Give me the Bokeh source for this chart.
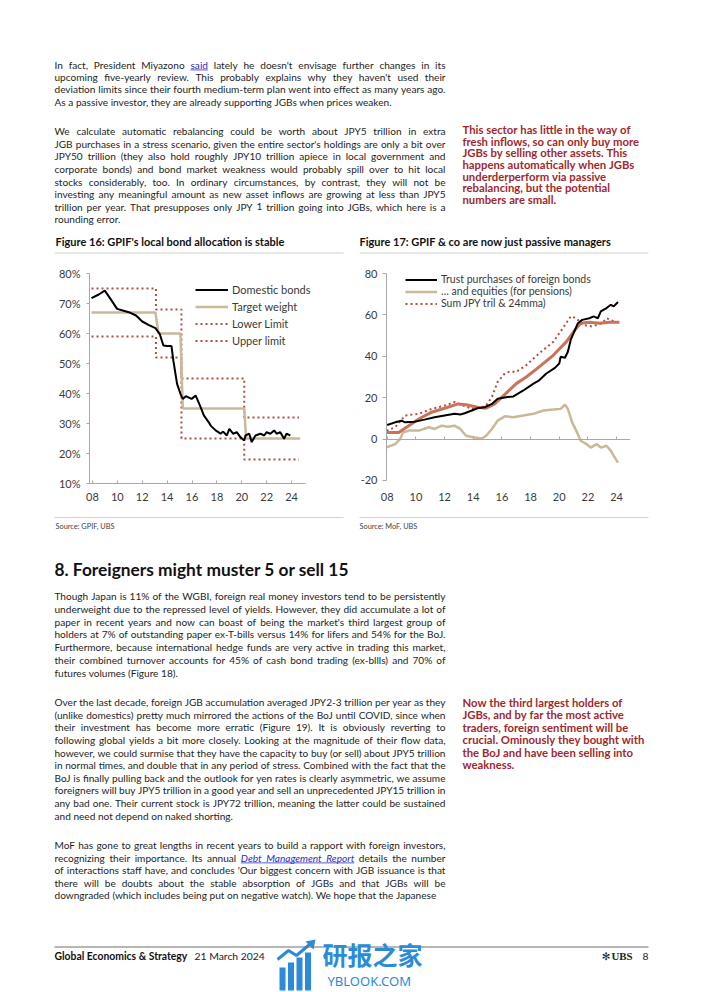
import glob, os
from bokeh.plotting import figure
from bokeh.models import (ColumnDataSource, Range1d, FixedTicker, Span, Legend, LegendItem,
                          LinearAxis)
from bokeh.layouts import column, row
from bokeh.embed import file_html
from bokeh.resources import INLINE
from bokeh.core.properties import value

# ---------------- Figure 16 data (GPIF domestic bond allocation, %) ----------------
dom_years = [2007.92, 2008.5, 2008.99, 2009.5, 2009.98, 2010.5, 2010.92, 2011.5, 2012.0, 2012.5,
             2013.06, 2013.4, 2013.7, 2014.0, 2014.35, 2014.5, 2014.8, 2015.07, 2015.26, 2015.5,
             2015.96, 2016.3, 2016.7, 2016.95, 2017.35, 2017.5, 2017.9, 2018.3, 2018.5, 2018.8,
             2019.0, 2019.3, 2019.6, 2019.9, 2020.2, 2020.3, 2020.6, 2020.8, 2021.1, 2021.5,
             2021.8, 2022.0, 2022.3, 2022.6, 2022.8, 2023.1, 2023.4, 2023.6, 2023.9]
dom_bonds = [71.8, 73.0, 74.3, 71.2, 68.2, 67.6, 67.1, 66.0, 64.0, 62.9,
             61.8, 59.9, 56.0, 55.8, 55.8, 51.0, 43.2, 39.9, 38.2, 39.1,
             38.2, 39.3, 35.4, 32.7, 30.4, 29.3, 27.7, 26.6, 27.3, 26.0,
             28.2, 26.6, 27.1, 25.4, 24.3, 26.0, 26.6, 23.8, 26.0, 26.6,
             26.0, 27.1, 26.6, 27.7, 26.6, 27.1, 24.9, 26.6, 26.0]
target_years = [2007.92, 2013.06, 2013.3, 2015.07, 2015.26, 2020.2, 2020.35, 2024.7]
target_weight = [67, 67, 60, 60, 35, 35, 25, 25]
limit_years = [2007.92, 2013.1, 2013.1, 2015.15, 2015.15, 2020.2, 2020.2, 2024.6]
lower_limit = [59, 59, 52, 52, 25, 25, 18, 18]
upper_limit = [75, 75, 68, 68, 45, 45, 32, 32]
f16_xticks = [2008, 2010, 2012, 2014, 2016, 2018, 2020, 2022, 2024]
f16_xlabels = ["08", "10", "12", "14", "16", "18", "20", "22", "24"]
f16_yticks = [10, 20, 30, 40, 50, 60, 70, 80]
f16_ylabels = ["10%", "20%", "30%", "40%", "50%", "60%", "70%", "80%"]

# ---------------- Figure 17 data (JPY tril) ----------------
trust_years = [2008.0, 2008.55, 2009.0, 2009.25, 2009.9, 2010.6, 2011.3, 2012.0, 2012.7, 2013.1,
               2013.4, 2013.9, 2014.3, 2014.8, 2015.3, 2015.7, 2016.4, 2016.8, 2017.5, 2018.2,
               2018.6, 2019.1, 2019.7, 2020.0, 2020.1, 2020.4, 2020.6, 2020.8, 2021.1, 2021.3,
               2021.6, 2022.1, 2022.4, 2022.7, 2022.9, 2023.3, 2023.6, 2023.8, 2024.1]
trust_bonds = [6.8, 8.1, 8.9, 8.1, 8.4, 9.4, 10.6, 11.4, 12.2, 11.9,
               12.5, 13.8, 14.9, 15.4, 17.0, 19.5, 20.3, 20.6, 23.5, 26.8,
               28.4, 31.7, 34.4, 36.5, 39.8, 39.3, 42.2, 47.9, 52.8, 56.0,
               57.6, 58.4, 59.3, 58.4, 61.7, 63.3, 64.9, 64.1, 66.2]
eq_years = [2007.95, 2008.55, 2008.9, 2009.1, 2009.5, 2010.2, 2010.9, 2011.3, 2011.8, 2012.25,
            2012.7, 2013.1, 2013.5, 2014.1, 2014.6, 2014.9, 2015.3, 2015.7, 2016.2, 2016.8,
            2017.5, 2018.2, 2018.9, 2019.6, 2020.1, 2020.4, 2020.6, 2020.9, 2021.3, 2021.5,
            2021.9, 2022.2, 2022.6, 2022.9, 2023.3, 2023.6, 2023.8, 2024.1]
equities = [-4.0, -2.4, 0.0, 3.2, 4.1, 4.1, 5.7, 4.9, 6.5, 6.0,
            6.5, 4.9, 1.6, 0.8, 0.3, 1.6, 4.9, 8.9, 11.0, 10.6,
            11.4, 12.2, 13.8, 14.3, 14.6, 16.6, 14.6, 8.1, 2.4, -0.8,
            -2.4, -4.1, -2.4, -4.1, -3.2, -5.7, -8.1, -11.4]
ma_years = [2007.95, 2008.8, 2009.5, 2010.2, 2011.1, 2012.0, 2012.95, 2013.5, 2014.3, 2014.9,
            2015.5, 2016.0, 2016.5, 2017.0, 2017.7, 2018.6, 2019.6, 2020.5, 2021.1, 2021.5,
            2022.1, 2022.8, 2023.5, 2024.2]
sum_24mma = [3.2, 3.2, 6.5, 9.7, 13.0, 14.9, 17.0, 16.6, 15.4, 14.9,
             17.0, 20.3, 23.5, 26.8, 30.0, 34.9, 40.6, 47.1, 52.8, 56.0,
             56.5, 56.0, 56.5, 56.5]
sum_years = [2007.95, 2008.55, 2009.25, 2010.2, 2011.1, 2012.0, 2012.7, 2013.3, 2013.9, 2014.6,
             2014.9, 2015.3, 2015.7, 2016.2, 2016.5, 2017.0, 2017.7, 2018.6, 2019.6, 2020.25,
             2020.8, 2021.2, 2021.6, 2022.3, 2023.0, 2023.3, 2023.95]
sum_total = [4.1, 5.7, 11.4, 12.2, 14.6, 16.2, 17.9, 16.2, 14.6, 15.4,
             16.2, 20.3, 27.6, 31.7, 32.5, 32.5, 35.7, 41.4, 47.1, 53.6,
             59.3, 58.4, 55.2, 54.4, 56.0, 58.4, 56.5]
f17_xticks = f16_xticks
f17_xlabels = f16_xlabels
f17_yticks = [-20, 0, 20, 40, 60, 80]
f17_ylabels = ["-20", "0", "20", "40", "60", "80"]

# ---------------- text content ----------------
P1 = ["In fact, President Miyazono @said lately he doesn't envisage further changes in its",
      "upcoming five-yearly review. This probably explains why they haven't used their",
      "deviation limits since their fourth medium-term plan went into effect as many years ago.",
      "As a passive investor, they are already supporting JGBs when prices weaken."]
P2 = ["We calculate automatic rebalancing could be worth about JPY5 trillion in extra",
      "JGB purchases in a stress scenario, given the entire sector's holdings are only a bit over",
      "JPY50 trillion (they also hold roughly JPY10 trillion apiece in local government and",
      "corporate bonds) and bond market weakness would probably spill over to hit local",
      "stocks considerably, too. In ordinary circumstances, by contrast, they will not be",
      "investing any meaningful amount as new asset inflows are growing at less than JPY5",
      "trillion per year. That presupposes only JPY 1 trillion going into JGBs, which here is a",
      "rounding error."]
SIDE1 = ["This sector has little in the way of",
         "fresh inflows, so can only buy more",
         "JGBs by selling other assets. This",
         "happens automatically when JGBs",
         "underderperform via passive",
         "rebalancing, but the potential",
         "numbers are small."]
TITLE16 = "Figure 16: GPIF's local bond allocation is stable"
TITLE17 = "Figure 17: GPIF & co are now just passive managers"
SRC16 = "Source: GPIF, UBS"
SRC17 = "Source: MoF, UBS"
HEADING = "8. Foreigners might muster 5 or sell 15"
P3 = ["Though Japan is 11% of the WGBI, foreign real money investors tend to be persistently",
      "underweight due to the repressed level of yields. However, they did accumulate a lot of",
      "paper in recent years and now can boast of being the market's third largest group of",
      "holders at 7% of outstanding paper ex-T-bills versus 14% for lifers and 54% for the BoJ.",
      "Furthermore, because international hedge funds are very active in trading this market,",
      "their combined turnover accounts for 45% of cash bond trading (ex-bllls) and 70% of",
      "futures volumes (Figure 18)."]
P4 = ["Over the last decade, foreign JGB accumulation averaged JPY2-3 trillion per year as they",
      "(unlike domestics) pretty much mirrored the actions of the BoJ until COVID, since when",
      "their investment has become more erratic (Figure 19). It is obviously reverting to",
      "following global yields a bit more closely. Looking at the magnitude of their flow data,",
      "however, we could surmise that they have the capacity to buy (or sell) about JPY5 trillion",
      "in normal times, and double that in any period of stress. Combined with the fact that the",
      "BoJ is finally pulling back and the outlook for yen rates is clearly asymmetric, we assume",
      "foreigners will buy JPY5 trillion in a good year and sell an unprecedented JPY15 trillion in",
      "any bad one. Their current stock is JPY72 trillion, meaning the latter could be sustained",
      "and need not depend on naked shorting."]
P5 = ["MoF has gone to great lengths in recent years to build a rapport with foreign investors,",
      "recognizing their importance. Its annual ~Debt ~Management ~Report details the number",
      "of interactions staff have, and concludes 'Our biggest concern with JGB issuance is that",
      "there will be doubts about the stable absorption of JGBs and that JGBs will be",
      "downgraded (which includes being put on negative watch). We hope that the Japanese"]
SIDE2 = ["Now the third largest holders of",
         "JGBs, and by far the most active",
         "traders, foreign sentiment will be",
         "crucial. Ominously they bought with",
         "the BoJ and have been selling into",
         "weakness."]
FOOT_L = "Global Economics & Strategy"
FOOT_D = "21 March 2024"
FOOT_PAGE = "8"

# ---------------- styling ----------------
FONT = "Lato"
INK = "#1e1e1e"
RED_NOTE = "#a0282d"
LINK = "#2c2cc4"
RULE = "#d2d2d2"
AXIS = "#a8a8a8"
LBL = "#3a3a3a"
BLACK = "#000000"
TAN = "#c9b997"
DOT = "#b44c40"
ORANGE = "#c9735b"
WM = "#2b8bd9"


def _find(name):
    for d in ("/usr/share/fonts", "/usr/local/share/fonts",
              os.path.expanduser("~/.fonts"), os.path.expanduser("~/.local/share/fonts")):
        try:
            hits = glob.glob(os.path.join(d, "**", name), recursive=True)
        except Exception:
            hits = []
        if hits:
            return sorted(hits)[0]
    return None


FONT_FILES = {"normal": _find("Lato-Regular.ttf"), "bold": _find("Lato-Bold.ttf"),
              "italic": _find("Lato-Italic.ttf")}
_pil = {}


def em(text, style="normal"):
    path = FONT_FILES.get(style)
    if path:
        try:
            if style not in _pil:
                from PIL import ImageFont
                _pil[style] = ImageFont.truetype(path, 200)
            return _pil[style].getlength(text) / 200.0
        except Exception:
            pass
    return len(text) * (0.52 if style == "bold" else 0.47)


def clean(s):
    return s.replace("@", "").replace("~", "")


def fit(text, width, style="normal", lo=6.0, hi=30.0):
    return max(lo, min(hi, width / em(clean(text), style)))


BODY = max(9.0, min(11.0, min(391.0 / em(clean(l)) for l in P1[:-1] + P2[:-1] + P3[:-1] + P4[:-1] + P5)))
SIDE = max(9.0, min(11.5, 181.0 / max(em(l, "bold") for l in SIDE1 + SIDE2)))
HEAD = fit(HEADING, 294, "bold", 14, 22)
TSIZE = max(8.5, min(11, 0.5 * (fit(TITLE16, 228, "bold") + fit(TITLE17, 253, "bold"))))
SSIZE = max(6.0, min(8.5, fit(SRC16, 59)))
FSIZE = max(8.5, min(11, fit(FOOT_L, 133, "bold")))

# ---------------- text layers (coordinates = page pixels, y = visual line centre) ----------------
texts = {}
segs = {}


def put(fk, x, c, txt, size, style="normal", color=INK, align="left", font=FONT):
    key = (fk, font, round(size, 2), style, align)
    d = texts.setdefault(key, {"x": [], "y": [], "text": [], "clr": []})
    d["x"].append(x); d["y"].append(c - 0.09 * size); d["text"].append(txt); d["clr"].append(color)


def seg(fk, x0, y0, x1, y1, color, width):
    d = segs.setdefault(fk, {"x0": [], "y0": [], "x1": [], "y1": [], "c": [], "w": []})
    d["x0"].append(x0); d["y0"].append(y0); d["x1"].append(x1); d["y1"].append(y1)
    d["c"].append(color); d["w"].append(width)


def paragraph(fk, lines, x0, x1, y0, dy, size, color=INK, style="normal", justify=True):
    sp = em(" ", style) * size
    for i, line in enumerate(lines):
        c = y0 + i * dy
        toks = []
        for w in line.split(" "):
            kind = "n"
            if w.startswith("@"):
                kind, w = "link", w[1:]
            elif w.startswith("~"):
                kind, w = "ilink", w[1:]
            st = "italic" if kind == "ilink" else style
            toks.append((w, kind, st, em(w, st) * size))
        total = sum(t[3] for t in toks)
        if justify and i < len(lines) - 1 and len(toks) > 1:
            gap = max((x1 - x0 - total) / (len(toks) - 1), sp * 0.6)
        else:
            gap = sp
        x = x0
        prev_end = None
        uy = c + 0.3 * size + 1.4
        for w, kind, st, wd in toks:
            put(fk, x, c, w, size, st, LINK if kind != "n" else color)
            if kind != "n":
                seg(fk, x if prev_end is None else prev_end, uy, x + wd, uy, LINK, 0.8)
                prev_end = x + wd
            else:
                prev_end = None
            x += wd + gap


# top section (page y 0..256)
paragraph("top", P1, 54, 445, 65.0, 12.4, BODY)
paragraph("top", P2, 54, 445, 131.7, 12.6, BODY)
paragraph("top", SIDE1, 462, 680, 130.0, 11.67, SIDE, RED_NOTE, "bold", justify=False)
put("top", 55, 242, TITLE16, TSIZE, "bold", "#111111")
put("top", 359, 242, TITLE17, TSIZE, "bold", "#111111")
seg("top", 54, 252.5, 343, 252.5, RULE, 1)
seg("top", 359, 252.5, 648, 252.5, RULE, 1)

# bottom section (page y 512..992)
seg("bot", 54, 517, 343, 517, RULE, 1)
seg("bot", 359, 517, 648, 517, RULE, 1)
put("bot", 55, 527, SRC16, SSIZE, "normal", "#444444")
put("bot", 359, 527, SRC17, SSIZE, "normal", "#444444")
put("bot", 54, 571, HEADING, HEAD, "bold", "#111111")
paragraph("bot", P3, 54, 445, 596.5, 12.75, BODY)
paragraph("bot", P4, 54, 445, 702.7, 12.6, BODY)
paragraph("bot", P5, 54, 445, 845.3, 12.65, BODY)
paragraph("bot", SIDE2, 462, 680, 702.7, 12.5, SIDE, RED_NOTE, "bold", justify=False)
seg("bot", 54, 946.5, 648, 946.5, "#6e6e6e", 1.2)
put("bot", 54, 956.5, FOOT_L, FSIZE, "bold", "#111111")
put("bot", 194, 956.5, FOOT_D, FSIZE, "normal", "#222222")
put("bot", 648, 956.5, FOOT_PAGE, FSIZE, "normal", "#222222", align="right")
put("bot", 611, 956.5, "UBS", FSIZE + 0.5, "bold", "#222222", font="Liberation Serif")
put("bot", 610, 956.5, "\u273b", FSIZE, "normal", "#222222", align="right", font="DejaVu Sans")
put("bot", 322, 956, "研报之家", 25, "bold", WM, font="Noto Sans CJK SC")
put("bot", 327, 982, "YBLOOK.COM", 13, "normal", WM, font="Noto Sans")


def text_fig(height, y_top):
    p = figure(width=702, height=height, x_range=Range1d(0, 702),
               y_range=Range1d(y_top + height, y_top), x_axis_type=None, y_axis_type=None,
               output_backend="svg", toolbar_location=None, min_border=0, title=None)
    p.outline_line_color = None
    p.background_fill_color = "white"
    p.border_fill_color = "white"
    return p


def render_layer(p, fk):
    if fk in segs:
        p.segment(x0="x0", y0="y0", x1="x1", y1="y1", line_color="c", line_width="w",
                  source=ColumnDataSource(segs[fk]))
    for key, d in texts.items():
        if key[0] != fk:
            continue
        _, font, size, style, align = key
        p.text(x="x", y="y", text="text", text_color="clr", source=ColumnDataSource(d),
               text_font=value(font), text_font_size=value(f"{size}px"),
               text_font_style=value(style), text_align=value(align),
               text_baseline=value("middle"))


top = text_fig(256, 0)
render_layer(top, "top")

bot = text_fig(480, 512)
# watermark icon
bot.quad(left=[279, 287.5, 296, 304.5], right=[285, 293.5, 302, 310.5],
         top=[967, 962, 957, 952], bottom=[990, 990, 990, 990],
         fill_color=WM, line_color=None)
bot.line(x=[277, 288, 296, 309], y=[959, 950, 955, 944], line_color=WM, line_width=3)
bot.patch(x=[305, 315, 313], y=[941, 939, 949], fill_color=WM, line_color=None)
render_layer(bot, "bot")


def style_axes(p, size):
    for ax in p.axis:
        ax.axis_line_color = AXIS
        ax.major_tick_line_color = AXIS
        ax.minor_tick_line_color = None
        ax.major_label_text_font = FONT
        ax.major_label_text_font_size = f"{size}px"
        ax.major_label_text_color = LBL
    p.xgrid.visible = False
    p.ygrid.visible = False
    p.outline_line_color = None
    p.background_fill_color = "white"
    p.border_fill_color = "white"


# Both chart frames span page y 261..483 (same top/bottom borders, frames are aligned in a row)
# ---------------- Figure 16 (page x 0..351) ----------------
p16 = figure(width=351, height=256, x_range=Range1d(2007.76, 2028.5), y_range=Range1d(10, 84),
             output_backend="svg", toolbar_location=None, title=None,
             min_border_left=89, min_border_right=4, min_border_top=5, min_border_bottom=29)
style_axes(p16, 11)
p16.xaxis.bounds = (2007.76, 2025.12)
p16.xaxis.ticker = FixedTicker(ticks=f16_xticks)
p16.xaxis.major_label_overrides = dict(zip(f16_xticks, f16_xlabels))
p16.xaxis.major_tick_in = 3
p16.xaxis.major_tick_out = 0
p16.xaxis.major_label_standoff = 9
p16.yaxis.bounds = (10, 80)
p16.yaxis.ticker = FixedTicker(ticks=f16_yticks)
p16.yaxis.major_label_overrides = dict(zip(f16_yticks, f16_ylabels))
p16.yaxis.major_tick_in = 0
p16.yaxis.major_tick_out = 3
p16.yaxis.major_label_standoff = 6

r_up = p16.line(limit_years, upper_limit, line_color=DOT, line_width=2, line_dash="2 3")
r_low = p16.line(limit_years, lower_limit, line_color=DOT, line_width=2, line_dash="2 3")
r_tgt = p16.line(target_years, target_weight, line_color=TAN, line_width=2.5)
r_dom = p16.line(dom_years, dom_bonds, line_color=BLACK, line_width=2)

leg16 = Legend(items=[LegendItem(label="Domestic bonds", renderers=[r_dom]),
                      LegendItem(label="Target weight", renderers=[r_tgt]),
                      LegendItem(label="Lower Limit", renderers=[r_low]),
                      LegendItem(label="Upper limit", renderers=[r_up])],
               location=(106, 134), glyph_width=33, glyph_height=17, label_height=17,
               spacing=0, padding=0, margin=0, label_standoff=4,
               border_line_color=None, background_fill_alpha=0,
               label_text_font=FONT, label_text_font_size="11px", label_text_color=LBL)
p16.add_layout(leg16)

# ---------------- Figure 17 (page x 351..702) ----------------
p17 = figure(width=351, height=256, x_range=Range1d(2007.95, 2024.97), y_range=Range1d(-21.45, 85.8),
             output_backend="svg", toolbar_location=None, title=None,
             min_border_left=35, min_border_right=72, min_border_top=5, min_border_bottom=29)
style_axes(p17, 11)
p17.xaxis.ticker = FixedTicker(ticks=f17_xticks)
p17.xaxis.major_label_overrides = dict(zip(f17_xticks, f17_xlabels))
p17.xaxis.axis_line_color = None
p17.xaxis.major_tick_line_color = None
p17.xaxis.major_tick_in = 0
p17.xaxis.major_tick_out = 0
p17.xaxis.major_label_standoff = 9
p17.yaxis.bounds = (-20, 80)
p17.yaxis.ticker = FixedTicker(ticks=f17_yticks)
p17.yaxis.major_label_overrides = dict(zip(f17_yticks, f17_ylabels))
p17.yaxis.major_tick_in = 0
p17.yaxis.major_tick_out = 4
p17.yaxis.major_label_standoff = 5
# zero line with small ticks (axis pinned at y = 0, no labels)
zero_axis = LinearAxis(fixed_location=0, ticker=FixedTicker(ticks=f17_xticks),
                       axis_line_color=AXIS, major_tick_line_color=AXIS,
                       major_tick_in=3, major_tick_out=0, minor_tick_line_color=None,
                       major_label_text_font_size="0px", major_label_standoff=0)
p17.add_layout(zero_axis, "below")

r_eq = p17.line(eq_years, equities, line_color=TAN, line_width=2.5)
r_sum = p17.line(sum_years, sum_total, line_color=DOT, line_width=2, line_dash="2 3")
p17.line(ma_years, sum_24mma, line_color=ORANGE, line_width=3)
r_tr = p17.line(trust_years, trust_bonds, line_color=BLACK, line_width=2)

leg17 = Legend(items=[LegendItem(label="Trust purchases of foreign bonds", renderers=[r_tr]),
                      LegendItem(label="\u2026 and equities (for pensions)", renderers=[r_eq]),
                      LegendItem(label="Sum JPY tril & 24mma)", renderers=[r_sum])],
               location=(19, 174), glyph_width=32, glyph_height=11, label_height=11,
               spacing=0, padding=0, margin=0, label_standoff=4,
               border_line_color=None, background_fill_alpha=0,
               label_text_font=FONT, label_text_font_size="10.5px", label_text_color=LBL)
p17.add_layout(leg17)

layout = column(top, row(p16, p17), bot)
open("out.html", "w").write(file_html(layout, INLINE))
